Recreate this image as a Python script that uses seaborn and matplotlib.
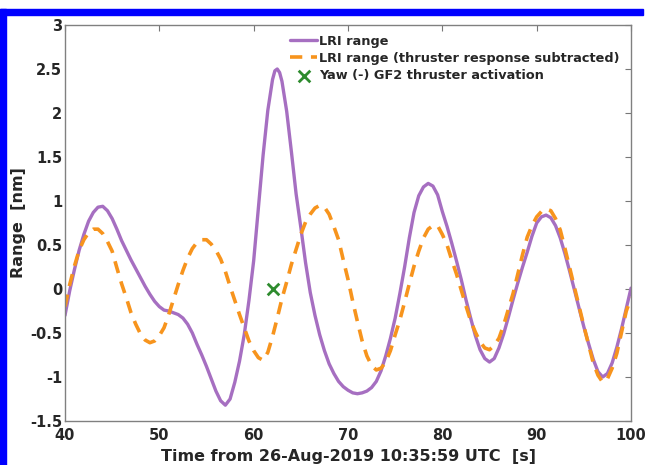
import matplotlib
matplotlib.use("Agg")
import matplotlib.pyplot as plt
from matplotlib.patches import Rectangle
import seaborn as sns

# LRI range [s], [nm]
t_lri = [40, 40.5, 41, 41.5, 42, 42.5, 43, 43.5, 44, 44.5, 45, 45.5, 46, 46.5,
         47, 47.5, 48, 48.5, 49, 49.5, 50, 50.5, 51, 51.5, 52, 52.5, 53, 53.5,
         54, 54.5, 55, 55.5, 56, 56.5, 57, 57.5, 58, 58.5, 59, 59.5, 60, 60.5,
         61, 61.5, 62, 62.25, 62.5, 62.75, 63, 63.5, 64, 64.5, 65, 65.5, 66,
         66.5, 67, 67.5, 68, 68.5, 69, 69.5, 70, 70.5, 71, 71.5, 72, 72.5, 73,
         73.5, 74, 74.5, 75, 75.5, 76, 76.5, 77, 77.5, 78, 78.5, 79, 79.5, 80,
         80.5, 81, 81.5, 82, 82.5, 83, 83.5, 84, 84.5, 85, 85.5, 86, 86.5, 87,
         87.5, 88, 88.5, 89, 89.5, 90, 90.5, 91, 91.5, 92, 92.5, 93, 93.5, 94,
         94.5, 95, 95.5, 96, 96.5, 97, 97.5, 98, 98.5, 99, 99.5, 100]
lri_range = [-0.30, -0.02, 0.22, 0.44, 0.62, 0.77, 0.87, 0.93, 0.94, 0.89,
             0.80, 0.68, 0.55, 0.44, 0.33, 0.23, 0.13, 0.03, -0.06, -0.14,
             -0.20, -0.24, -0.25, -0.27, -0.29, -0.33, -0.40, -0.50, -0.63,
             -0.75, -0.88, -1.02, -1.16, -1.27, -1.32, -1.25, -1.06, -0.82,
             -0.52, -0.13, 0.32, 0.92, 1.52, 2.03, 2.38, 2.48, 2.50, 2.46,
             2.36, 2.02, 1.56, 1.08, 0.70, 0.30, -0.04, -0.30, -0.52, -0.70,
             -0.85, -0.96, -1.05, -1.11, -1.15, -1.18, -1.19, -1.18, -1.16,
             -1.12, -1.05, -0.93, -0.76, -0.56, -0.33, -0.05, 0.25, 0.58, 0.87,
             1.06, 1.16, 1.20, 1.17, 1.07, 0.88, 0.71, 0.52, 0.32, 0.11, -0.12,
             -0.33, -0.53, -0.69, -0.79, -0.83, -0.79, -0.67, -0.51, -0.32,
             -0.12, 0.07, 0.25, 0.42, 0.60, 0.75, 0.82, 0.84, 0.81, 0.72, 0.58,
             0.40, 0.20, -0.01, -0.22, -0.43, -0.62, -0.80, -0.94, -1.00, -0.96,
             -0.84, -0.66, -0.45, -0.22, 0.01]

# LRI range with thruster response subtracted
t_sub = [40, 40.5, 41, 41.5, 42, 42.5, 43, 43.5, 44, 44.5, 45, 45.5, 46, 46.5,
         47, 47.5, 48, 48.5, 49, 49.5, 50, 50.5, 51, 51.5, 52, 52.5, 53, 53.5,
         54, 54.5, 55, 55.5, 56, 56.5, 57, 57.5, 58, 58.5, 59, 59.5, 60, 60.5,
         61, 61.5, 62, 62.5, 63, 63.5, 64, 64.5, 65, 65.5, 66, 66.5, 67, 67.5,
         68, 68.5, 69, 69.5, 70, 70.5, 71, 71.5, 72, 72.5, 73, 73.5, 74, 74.5,
         75, 75.5, 76, 76.5, 77, 77.5, 78, 78.5, 79, 79.5, 80, 80.5, 81, 81.5,
         82, 82.5, 83, 83.5, 84, 84.5, 85, 85.5, 86, 86.5, 87, 87.5, 88, 88.5,
         89, 89.5, 90, 90.5, 91, 91.5, 92, 92.5, 93, 93.5, 94, 94.5, 95, 95.5,
         96, 96.5, 97, 97.5, 98, 98.5, 99, 99.5, 100]
lri_sub = [-0.20, 0.05, 0.26, 0.44, 0.56, 0.64, 0.68, 0.68, 0.63, 0.54, 0.43,
           0.24, 0.06, -0.10, -0.27, -0.40, -0.51, -0.58, -0.61, -0.59, -0.53,
           -0.44, -0.29, -0.12, 0.05, 0.21, 0.35, 0.46, 0.53, 0.56, 0.56, 0.51,
           0.44, 0.34, 0.20, 0.03, -0.13, -0.29, -0.44, -0.59, -0.70, -0.78,
           -0.81, -0.72, -0.54, -0.33, -0.11, 0.08, 0.28, 0.45, 0.62, 0.76,
           0.85, 0.92, 0.95, 0.93, 0.85, 0.71, 0.56, 0.33, 0.11, -0.14, -0.37,
           -0.59, -0.76, -0.87, -0.92, -0.90, -0.83, -0.70, -0.52, -0.35, -0.15,
           0.06, 0.26, 0.43, 0.58, 0.68, 0.72, 0.72, 0.62, 0.50, 0.33, 0.17,
           -0.01, -0.19, -0.36, -0.49, -0.60, -0.67, -0.69, -0.64, -0.56, -0.41,
           -0.23, -0.05, 0.17, 0.39, 0.59, 0.72, 0.82, 0.88, 0.91, 0.89, 0.80,
           0.67, 0.46, 0.24, 0.02, -0.20, -0.42, -0.63, -0.84, -0.98, -1.06,
           -1.02, -0.90, -0.73, -0.49, -0.25, -0.10]

# thruster activation
t_thr = [62.05]
y_thr = [0.0]

xticks = [40, 50, 60, 70, 80, 90, 100]
yticks = [-1.5, -1, -0.5, 0, 0.5, 1, 1.5, 2, 2.5, 3]
ytick_labels = ["-1.5", "-1", "-0.5", "0", "0.5", "1", "1.5", "2", "2.5", "3"]

sns.set_style("white")
plt.rcParams["font.family"] = ["DejaVu Sans"]
plt.rcParams["font.weight"] = "bold"

fig = plt.figure(figsize=(6.46, 4.65), dpi=100)
ax = fig.add_axes([0.1006, 0.0946, 0.8762, 0.8516])

sns.lineplot(x=t_lri, y=lri_range, ax=ax, color="#a66fc1", lw=2.4,
             label="LRI range")
sns.lineplot(x=t_sub, y=lri_sub, ax=ax, color="#f7941d", lw=2.6,
             linestyle=(0, (3.4, 2.4)),
             label="LRI range (thruster response subtracted)")
sns.scatterplot(x=t_thr, y=y_thr, ax=ax, marker="x", s=70, color="#2e8b2e",
                linewidth=2, label="Yaw (-) GF2 thruster activation", zorder=5)

ax.set_xlim(40, 100)
ax.set_ylim(-1.5, 3)
ax.set_xticks(xticks)
ax.set_xticklabels([str(v) for v in xticks])
ax.set_yticks(yticks)
ax.set_yticklabels(ytick_labels)
ax.tick_params(direction="in", length=4, width=0.8, color="#777777",
               top=True, right=True, labelsize=10.5)
ax.tick_params(axis="x", pad=5)
ax.tick_params(axis="y", pad=2)
for lab in ax.get_xticklabels() + ax.get_yticklabels():
    lab.set_fontweight("bold")
for sp in ax.spines.values():
    sp.set_color("#808080")
    sp.set_linewidth(1.0)

ax.set_xlabel("Time from 26-Aug-2019 10:35:59 UTC  [s]", fontsize=11.5,
              fontweight="bold", labelpad=4.5)
ax.set_ylabel("Range  [nm]", fontsize=11.5, fontweight="bold", labelpad=3)

ax.legend(loc="upper left", bbox_to_anchor=(0.449, 0.925),
          bbox_transform=fig.transFigure, frameon=False, borderpad=0,
          borderaxespad=0, handlelength=2.1, handletextpad=0.15,
          labelspacing=0.32, prop={"size": 9.3, "weight": "bold"})

# blue frame around the picture
fig.patches.append(Rectangle((0, 0.9677), 643 / 646, 0.0129,
                             transform=fig.transFigure, color="#0000ff",
                             zorder=10))
fig.patches.append(Rectangle((0, 0), 0.0093, 0.9806,
                             transform=fig.transFigure, color="#0000ff",
                             zorder=10))

fig.savefig("out.png", dpi=100)
